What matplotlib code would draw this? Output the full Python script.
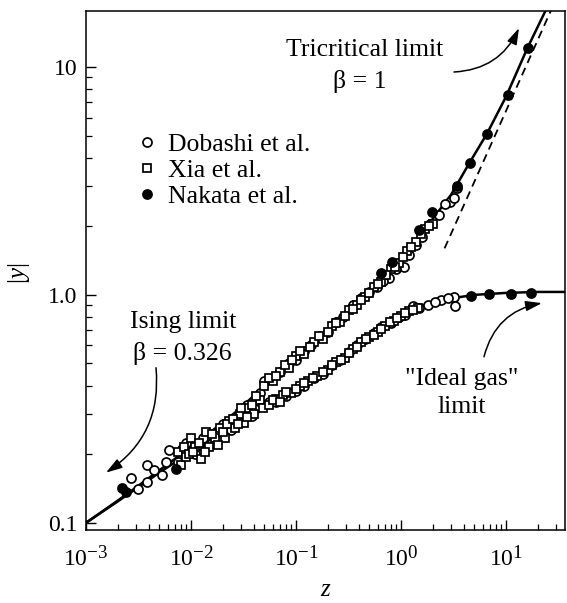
import matplotlib
matplotlib.use('Agg')
import matplotlib.pyplot as plt
try:
    import matplotlib._mathtext as _mt
    _mt.SHRINK_FACTOR = 0.8
except Exception:
    pass

# ---------------- data ----------------
# fitted crossover curves
upper_z = [1e-3, 2e-3, 3e-3, 5e-3, 1e-2, 2e-2, 3e-2, 5e-2, 0.1, 0.2, 0.3, 0.5, 0.7,
           1.0, 1.5, 2.0, 3.0, 4.5, 6.6, 10.0, 16.0, 30.0]
upper_y = [0.100, 0.125, 0.143, 0.170, 0.215, 0.275, 0.320, 0.400, 0.520, 0.700, 0.820,
           1.030, 1.200, 1.450, 1.820, 2.150, 2.750, 3.800, 5.100, 7.400, 12.100, 22.0]
lower_z = [1e-3, 2e-3, 5e-3, 1e-2, 2e-2, 3e-2, 5e-2, 0.1, 0.2, 0.3, 0.5, 0.7, 1.0,
           1.5, 2.0, 3.0, 5.0, 10.0, 20.0, 40.0]
lower_y = [0.100, 0.124, 0.166, 0.205, 0.250, 0.280, 0.325, 0.390, 0.480, 0.550, 0.660,
           0.740, 0.820, 0.890, 0.930, 0.965, 1.000, 1.020, 1.030, 1.030]
# tricritical (slope 1) asymptote
dash_z = [2.6, 28.0]
dash_y = [1.6, 18.5]

# Dobashi et al. (open circles)
dob_z = [2.7e-3, 3.8e-3, 3.8e-3, 5.3e-3, 6.2e-3, 7.5e-3, 9.0e-3, 1.1e-2, 1.3e-2, 1.6e-2,
         2.0e-2, 2.4e-2, 3.0e-2, 3.8e-2, 4.5e-2, 5.5e-2,
         3.1e-3, 4.4e-3, 5.8e-3, 8.2e-3, 1.2e-2, 1.8e-2, 2.7e-2, 3.4e-2, 4.1e-2,
         7e-2, 0.10, 0.14, 0.20, 0.28, 0.42, 0.59, 0.77, 1.07, 1.4, 1.9, 2.9, 3.2, 3.4,
         0.05, 0.085, 0.12, 0.17, 0.24, 0.35, 0.50, 0.68, 0.90, 1.2, 1.6, 2.3, 2.6,
         8e-2, 0.12, 0.18, 0.26, 0.38, 0.55, 0.80, 1.1, 1.3, 1.8, 2.4, 3.2, 3.3,
         0.065, 0.10, 0.15, 0.22, 0.32, 0.45, 0.65, 0.95, 1.5, 2.1, 2.8]
dob_y = [0.157, 0.179, 0.151, 0.162, 0.208, 0.185, 0.225, 0.200, 0.235, 0.225,
         0.270, 0.255, 0.310, 0.295, 0.370, 0.340,
         0.140, 0.170, 0.185, 0.210, 0.220, 0.250, 0.285, 0.330, 0.315,
         0.46, 0.52, 0.60, 0.69, 0.80, 0.97, 1.08, 1.19, 1.33, 1.65, 2.05, 2.55, 2.66, 2.95,
         0.42, 0.50, 0.57, 0.66, 0.76, 0.90, 1.03, 1.15, 1.30, 1.50, 1.80, 2.25, 2.50,
         0.36, 0.40, 0.45, 0.52, 0.60, 0.68, 0.75, 0.82, 0.89, 0.90, 0.95, 0.98, 0.89,
         0.34, 0.38, 0.43, 0.49, 0.56, 0.64, 0.72, 0.80, 0.88, 0.93, 0.97]

# Xia et al. (open squares)
xia_z = [7.5e-3, 8e-3, 9e-3, 1.0e-2, 1.1e-2, 1.25e-2, 1.4e-2, 1.5e-2, 1.7e-2, 1.9e-2,
         2.1e-2, 2.3e-2, 2.6e-2, 2.9e-2, 3.2e-2, 3.5e-2, 4.0e-2, 4.5e-2,
         8.5e-3, 9.5e-3, 1.05e-2, 1.2e-2, 1.35e-2, 1.6e-2, 1.8e-2, 2.0e-2, 2.2e-2, 2.5e-2,
         2.8e-2, 3.0e-2, 3.4e-2, 3.8e-2, 4.2e-2, 4.8e-2,
         5e-2, 6e-2, 7e-2, 8.5e-2, 0.10, 0.12, 0.15, 0.18, 0.22, 0.26, 0.32, 0.38, 0.45,
         0.55, 0.65, 0.80, 0.95, 1.15, 1.4, 1.7, 2.0,
         5.5e-2, 6.5e-2, 7.8e-2, 9.2e-2, 0.11, 0.135, 0.165, 0.20, 0.24, 0.29, 0.35, 0.42,
         0.50, 0.60, 0.72, 0.87, 1.05, 1.25, 1.55, 1.85,
         5.5e-2, 6.5e-2, 7.5e-2, 9e-2, 0.11, 0.13, 0.16, 0.20, 0.24, 0.29, 0.35, 0.42,
         0.50, 0.60, 0.70, 0.85, 1.0, 1.2, 1.45,
         6e-2, 7e-2, 8e-2, 0.10, 0.12, 0.145, 0.18, 0.22, 0.27, 0.32, 0.38, 0.46,
         0.55, 0.65, 0.78, 0.92, 1.1, 1.3]
xia_y = [0.205, 0.180, 0.195, 0.235, 0.215, 0.190, 0.250, 0.215, 0.235, 0.260,
         0.235, 0.280, 0.260, 0.300, 0.275, 0.320, 0.300, 0.345,
         0.215, 0.200, 0.205, 0.225, 0.205, 0.245, 0.220, 0.250, 0.270, 0.285,
         0.270, 0.320, 0.290, 0.330, 0.360, 0.320,
         0.40, 0.42, 0.46, 0.48, 0.54, 0.55, 0.62, 0.64, 0.73, 0.76, 0.86, 0.90, 0.98,
         1.08, 1.14, 1.30, 1.38, 1.55, 1.70, 1.95, 2.05,
         0.43, 0.44, 0.49, 0.52, 0.57, 0.59, 0.66, 0.69, 0.75, 0.81, 0.87, 0.95,
         1.02, 1.12, 1.22, 1.33, 1.47, 1.62, 1.85, 2.00,
         0.33, 0.35, 0.365, 0.37, 0.40, 0.42, 0.44, 0.47, 0.51, 0.53, 0.58, 0.62,
         0.655, 0.69, 0.73, 0.77, 0.81, 0.85, 0.88,
         0.345, 0.34, 0.375, 0.385, 0.41, 0.43, 0.46, 0.49, 0.52, 0.555, 0.59, 0.64,
         0.67, 0.71, 0.76, 0.79, 0.83, 0.86]

# Nakata et al. (filled circles)
nak_z = [2.2e-3, 2.4e-3, 7.2e-3, 0.64, 0.82, 1.48, 1.98, 3.4,
         4.5, 6.6, 10.4, 16.2, 4.6, 6.9, 11.2, 17.5]
nak_y = [0.142, 0.137, 0.172, 1.25, 1.40, 1.93, 2.30, 3.00,
         3.8, 5.1, 7.5, 12.1, 0.99, 1.01, 1.01, 1.015]

xtick_vals = [1e-3, 1e-2, 1e-1, 1e0, 1e1]
xtick_labels = [r'$10^{-3}$', r'$10^{-2}$', r'$10^{-1}$', r'$10^{0}$', r'$10^{1}$']
ytick_vals = [0.1, 1.0, 10.0]
ytick_labels = ['0.1', '1.0', '10']

# ---------------- style ----------------
plt.rcParams['font.family'] = ['Liberation Serif', 'DejaVu Serif']
plt.rcParams['mathtext.fontset'] = 'custom'
plt.rcParams['mathtext.rm'] = 'Liberation Serif'
plt.rcParams['mathtext.it'] = 'Liberation Serif:italic'
plt.rcParams['mathtext.bf'] = 'Liberation Serif:bold'

fig = plt.figure(figsize=(5.67, 6.03), dpi=100)
ax = fig.add_axes([0.1517, 0.1211, 0.8448, 0.8607])
ax.set_xscale('log')
ax.set_yscale('log')

ax.plot(upper_z, upper_y, color='black', lw=1.8, zorder=2)
ax.plot(lower_z, lower_y, color='black', lw=1.8, zorder=2)
ax.plot(dash_z, dash_y, color='black', lw=1.3, ls=(0, (4.5, 3.0)), zorder=2)

mk = dict(ls='none', markersize=6.5, markeredgewidth=1.25, markeredgecolor='black', zorder=3)
h1, = ax.plot(dob_z, dob_y, marker='o', markerfacecolor='white', label='Dobashi et al.', **mk)
h2, = ax.plot(xia_z, xia_y, marker='s', markerfacecolor='white', label='Xia et al.',
              **{**mk, 'markersize': 6.0})
h3, = ax.plot(nak_z, nak_y, marker='o', markerfacecolor='black', label='Nakata et al.', **mk)

ax.set_xlim(1e-3, 36.5)
ax.set_ylim(0.093, 17.6)

ax.set_xticks(xtick_vals, labels=xtick_labels)
ax.set_yticks(ytick_vals, labels=ytick_labels)
ax.xaxis.set_minor_locator(matplotlib.ticker.LogLocator(base=10, subs=range(2, 10), numticks=50))
ax.yaxis.set_minor_locator(matplotlib.ticker.LogLocator(base=10, subs=range(2, 10), numticks=50))
ax.xaxis.set_minor_formatter(matplotlib.ticker.NullFormatter())
ax.yaxis.set_minor_formatter(matplotlib.ticker.NullFormatter())
ax.tick_params(which='both', direction='in', top=False, right=False, color='black')
ax.tick_params(which='major', length=7, width=1.0)
ax.tick_params(which='minor', length=4, width=0.9)
ax.tick_params(axis='x', which='major', labelsize=17, pad=11)
ax.tick_params(axis='y', which='major', labelsize=17, pad=6)
for s in ax.spines.values():
    s.set_linewidth(1.1)

ax.set_xlabel('z', fontsize=18, fontstyle='italic', va='top')
ax.xaxis.set_label_coords(0.5, -0.094)
ax.set_ylabel(r'$|y|$', fontsize=18, va='center')
ax.yaxis.set_label_coords(-0.14, 0.495)

leg = ax.legend(handles=[h1, h2, h3], loc='upper left', bbox_to_anchor=(0.112, 0.765),
                frameon=False, fontsize=18.5, handlelength=0.55, handletextpad=0.55,
                labelspacing=0.11, borderpad=0, borderaxespad=0)

# annotations
fs = 18.5
ax.text(0.582, 0.913, 'Tricritical limit', transform=ax.transAxes, ha='center',
        va='baseline', fontsize=fs)
ax.text(0.572, 0.852, 'β = 1', transform=ax.transAxes, ha='center', va='baseline', fontsize=fs)
ax.text(0.2025, 0.389, 'Ising limit', transform=ax.transAxes, ha='center', va='baseline',
        fontsize=fs)
ax.text(0.2000, 0.328, 'β = 0.326', transform=ax.transAxes, ha='center', va='baseline',
        fontsize=fs)
ax.text(0.785, 0.279, '"Ideal gas"', transform=ax.transAxes, ha='center', va='baseline',
        fontsize=fs)
ax.text(0.785, 0.225, 'limit', transform=ax.transAxes, ha='center', va='baseline', fontsize=fs)

arrow = dict(arrowstyle='-|>,head_length=0.7,head_width=0.22', color='black', lw=1.1,
             mutation_scale=14, shrinkA=0, shrinkB=0)
ax.annotate('', xy=(13.3, 14.8), xytext=(3.2, 9.5),
            arrowprops={**arrow, 'connectionstyle': 'arc3,rad=0.3'})
ax.annotate('', xy=(1.55e-3, 0.166), xytext=(4.64e-3, 0.479),
            arrowprops={**arrow, 'connectionstyle': 'arc3,rad=-0.3'})
ax.annotate('', xy=(22.0, 0.92), xytext=(6.17, 0.535),
            arrowprops={**arrow, 'connectionstyle': 'arc3,rad=-0.32'})

fig.savefig('out.png', dpi=100)
